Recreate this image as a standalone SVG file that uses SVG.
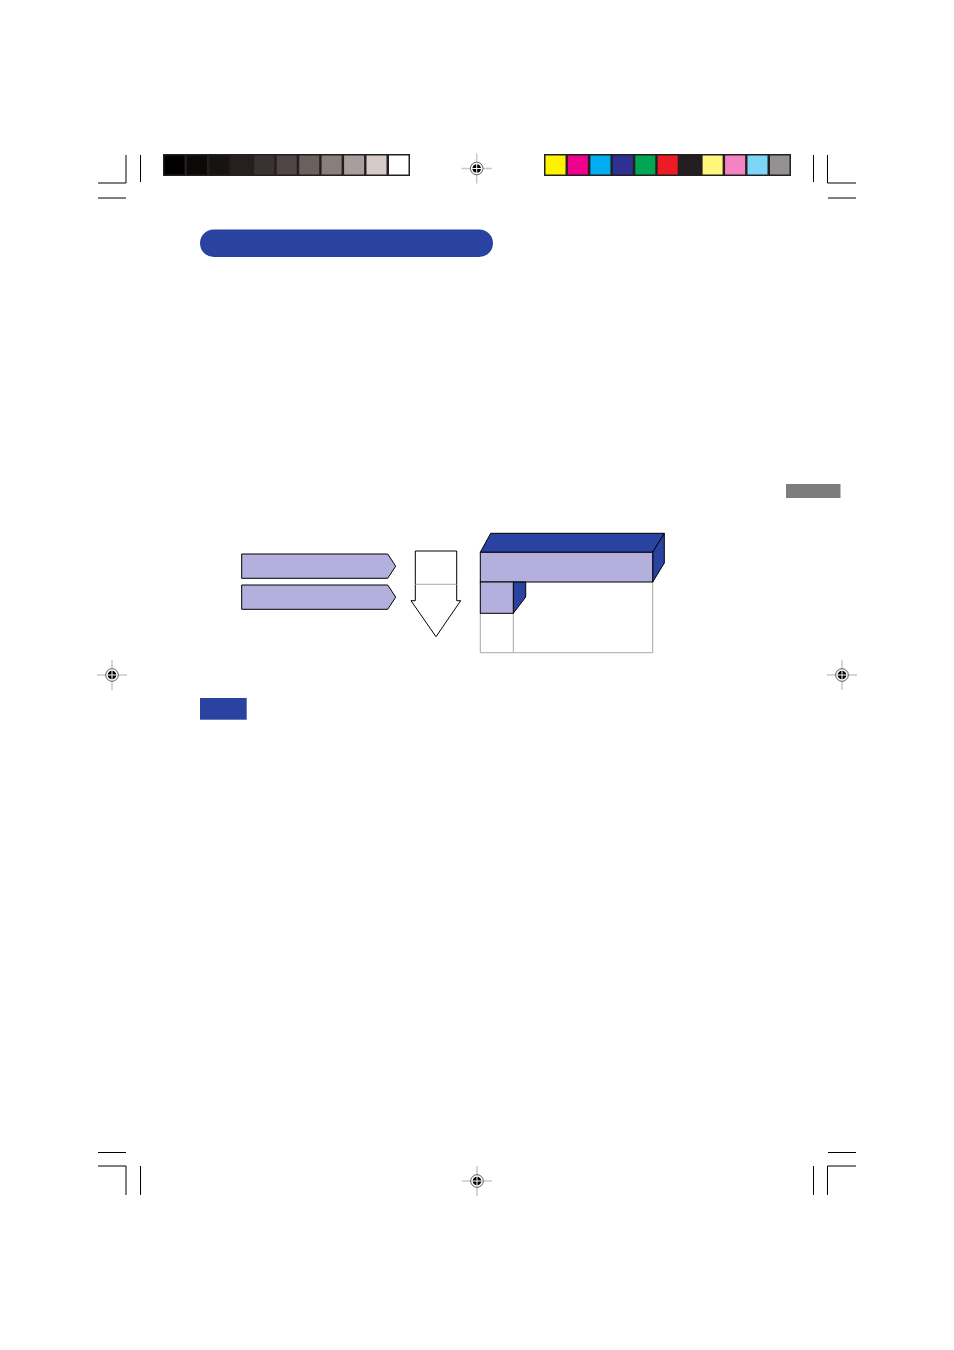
<svg xmlns="http://www.w3.org/2000/svg" width="954" height="1350" viewBox="0 0 954 1350">
<defs>
<style>
.crop{stroke:#000;stroke-width:1;fill:none}
.lav{fill:#b3b0dd;stroke:#000;stroke-width:1}
.blue{fill:#2a43a0;stroke:#000;stroke-width:1;stroke-linejoin:round}
.gl{stroke:#a8a8a8;stroke-width:1;fill:none}
</style>
<g id="reg">
<line x1="-15" y1="0" x2="15" y2="0" stroke="#c8c8c8" stroke-width="1.5"/>
<line x1="0" y1="-15" x2="0" y2="15" stroke="#c8c8c8" stroke-width="1.5"/>
<circle r="6.3" fill="#fff" stroke="#333" stroke-width="0.8"/>
<circle r="4.3" fill="#000"/>
<line x1="-4.5" y1="0" x2="4.5" y2="0" stroke="#fff" stroke-width="1"/>
<line x1="0" y1="-4.5" x2="0" y2="4.5" stroke="#fff" stroke-width="1"/>
</g>
</defs>
<rect width="954" height="1350" fill="#fff"/>

<g id="crop-marks">
<path class="crop" d="M126 155V183H98M140.5 155V182M98 198H126"/>
<path class="crop" d="M813.5 155V182M827.5 155V183H856M828 198H856"/>
<path class="crop" d="M98 1152.5H126M98 1166H126V1195M140.5 1166V1195"/>
<path class="crop" d="M828 1152.5H856M856 1166H827.5V1195M813.5 1166V1195"/>
</g>

<g id="gray-bar">
<rect x="163" y="154" width="247" height="22" fill="#231f20"/>
<rect x="164.5" y="155.5" width="20" height="19" fill="#000"/>
<rect x="186.9" y="155.5" width="20" height="19" fill="#0b0807"/>
<rect x="209.4" y="155.5" width="20" height="19" fill="#161312"/>
<rect x="231.8" y="155.5" width="20" height="19" fill="#25201e"/>
<rect x="254.3" y="155.5" width="20" height="19" fill="#3a3230"/>
<rect x="276.7" y="155.5" width="20" height="19" fill="#4f4644"/>
<rect x="299.2" y="155.5" width="20" height="19" fill="#6b605d"/>
<rect x="321.6" y="155.5" width="20" height="19" fill="#8a7e7a"/>
<rect x="344.1" y="155.5" width="20" height="19" fill="#a89e9b"/>
<rect x="366.5" y="155.5" width="20" height="19" fill="#d6cbc9"/>
<rect x="389" y="155.5" width="19.5" height="19" fill="#fff"/>
</g>

<g id="color-bar">
<rect x="544" y="154" width="247" height="22" fill="#231f20"/>
<rect x="545.5" y="155.5" width="20" height="19" fill="#fff200"/>
<rect x="567.9" y="155.5" width="20" height="19" fill="#ec008c"/>
<rect x="590.4" y="155.5" width="20" height="19" fill="#00aeef"/>
<rect x="612.8" y="155.5" width="20" height="19" fill="#2e3192"/>
<rect x="635.3" y="155.5" width="20" height="19" fill="#00a651"/>
<rect x="657.7" y="155.5" width="20" height="19" fill="#ed1c24"/>
<rect x="680.2" y="155.5" width="20" height="19" fill="#231f20"/>
<rect x="702.6" y="155.5" width="20" height="19" fill="#fff67d"/>
<rect x="725.1" y="155.5" width="20" height="19" fill="#f483c4"/>
<rect x="747.5" y="155.5" width="20" height="19" fill="#7dd5f7"/>
<rect x="770" y="155.5" width="19.5" height="19" fill="#939191"/>
</g>

<g id="registration">
<use href="#reg" x="476.7" y="168.5"/>
<use href="#reg" x="112" y="675"/>
<use href="#reg" x="842" y="675"/>
<use href="#reg" x="477" y="1181"/>
</g>

<g id="title-pill"><rect x="200" y="229.5" width="293" height="27.5" rx="13.75" fill="#2a43a0"/></g>
<g id="gray-tab"><rect x="786" y="484" width="54.5" height="14" fill="#7d7d7d"/></g>
<g id="blue-tab"><rect x="200" y="698" width="46.7" height="21.7" fill="#2a43a0"/></g>

<g id="arrow1"><polygon class="lav" points="241.7,554 387.7,554 395.7,566.2 387.7,578.3 241.7,578.3"/></g>
<g id="arrow2"><polygon class="lav" points="241.7,585 387.7,585 395.7,597.2 387.7,609.3 241.7,609.3"/></g>

<g id="down-arrow">
<polygon points="415.3,551 456.7,551 456.7,600.7 460.7,600.7 436,636.7 411,600.7 415.3,600.7" fill="#fff" stroke="#000" stroke-width="1"/>
<line class="gl" x1="415.3" y1="584.3" x2="456.7" y2="584.3"/>
</g>

<g id="block">
<path class="gl" d="M480.3 613.3V652.7H652.7V582M513.3 613.3V652.7"/>
<polygon class="blue" points="480.3,552.3 490.7,533.3 664.3,533.3 652.7,552.3"/>
<polygon class="blue" points="652.7,552.3 664.3,533.3 664.3,563 652.7,582"/>
<rect class="lav" x="480.3" y="552.3" width="172.4" height="29.7"/>
<polygon class="blue" points="513.3,582 525.7,582 525.7,597 513.3,613.3"/>
<rect class="lav" x="480.3" y="582" width="33" height="31.3"/>
</g>
</svg>
